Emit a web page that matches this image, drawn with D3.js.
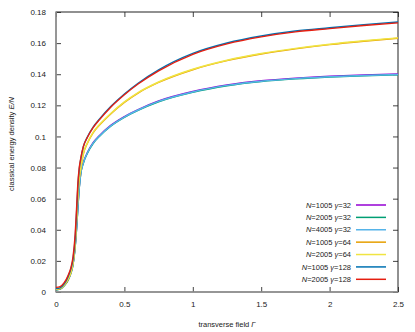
<!DOCTYPE html>
<html>
<head>
<meta charset="utf-8">
<script src="https://cdn.jsdelivr.net/npm/d3@7"></script>
<style>
  body { margin: 0; background: #fff; }
  text { font-family: "Liberation Sans", Arial, sans-serif; fill: #222; }
</style>
</head>
<body>
<div id="chart"></div>
<script>
// transverse field values shared by all series
const gammaField = [0, 0.03, 0.06, 0.09, 0.11, 0.125, 0.14, 0.15, 0.16, 0.17, 0.18, 0.2, 0.23, 0.27, 0.32, 0.4, 0.5, 0.6, 0.75, 1.0, 1.25, 1.5, 1.75, 2.0, 2.25, 2.5];

// energy density E/N per run
const n1005g32  = [0.0016, 0.0021, 0.0043, 0.0081, 0.0126, 0.0181, 0.0291, 0.0405, 0.0545, 0.0672, 0.0758, 0.0833, 0.0898, 0.0958, 0.1008, 0.1071, 0.1128, 0.1173, 0.1228, 0.1289, 0.1331, 0.1358, 0.1375, 0.1387, 0.1395, 0.1401];
const n2005g32  = [0.0012, 0.0018, 0.0040, 0.0078, 0.0123, 0.0178, 0.0288, 0.0400, 0.0540, 0.0668, 0.0753, 0.0828, 0.0893, 0.0953, 0.1003, 0.1066, 0.1123, 0.1168, 0.1223, 0.1284, 0.1326, 0.1353, 0.1370, 0.1382, 0.1390, 0.1396];
const n4005g32  = [0.0014, 0.0020, 0.0042, 0.0080, 0.0125, 0.0180, 0.0290, 0.0402, 0.0542, 0.0670, 0.0755, 0.0830, 0.0895, 0.0955, 0.1005, 0.1068, 0.1125, 0.1170, 0.1225, 0.1286, 0.1328, 0.1355, 0.1372, 0.1384, 0.1392, 0.1398];
const n1005g64  = [0.0016, 0.0021, 0.0043, 0.0083, 0.0128, 0.0188, 0.0305, 0.0455, 0.0615, 0.0725, 0.0785, 0.0887, 0.0957, 0.1022, 0.1075, 0.1145, 0.1219, 0.1279, 0.1347, 0.1429, 0.1487, 0.1530, 0.1563, 0.1590, 0.1612, 0.1631];
const n2005g64  = [0.0018, 0.0023, 0.0045, 0.0085, 0.0130, 0.0190, 0.0310, 0.0460, 0.0620, 0.0730, 0.0790, 0.0890, 0.0960, 0.1025, 0.1078, 0.1148, 0.1222, 0.1282, 0.1350, 0.1432, 0.1490, 0.1533, 0.1566, 0.1593, 0.1615, 0.1634];
const n1005g128 = [0.0022, 0.0027, 0.0052, 0.0102, 0.0152, 0.0215, 0.0345, 0.0505, 0.0680, 0.0790, 0.0850, 0.0935, 0.0998, 0.1059, 0.1114, 0.1192, 0.1273, 0.1342, 0.1428, 0.1534, 0.1601, 0.1646, 0.1678, 0.1699, 0.1719, 0.1736];
const n2005g128 = [0.0030, 0.0035, 0.0060, 0.0110, 0.0160, 0.0230, 0.0370, 0.0530, 0.0700, 0.0800, 0.0855, 0.0935, 0.0995, 0.1055, 0.1110, 0.1188, 0.1268, 0.1337, 0.1422, 0.1528, 0.1595, 0.1640, 0.1672, 0.1693, 0.1713, 0.1730];

const seriesN     = ["1005", "2005", "4005", "1005", "2005", "1005", "2005"];
const seriesGamma = ["32", "32", "32", "64", "64", "128", "128"];
const seriesColor = ["#9400d3", "#009e73", "#56b4e9", "#e69f00", "#f0e442", "#0072b2", "#e51e10"];
const seriesValues = [n1005g32, n2005g32, n4005g32, n1005g64, n2005g64, n1005g128, n2005g128];

const xTicks = [0, 0.5, 1, 1.5, 2, 2.5];
const yTicks = [0, 0.02, 0.04, 0.06, 0.08, 0.1, 0.12, 0.14, 0.16, 0.18];

const W = 415, H = 332;
const margin = { top: 12, right: 17, bottom: 40, left: 56 };
const width = W - margin.left - margin.right;
const height = H - margin.top - margin.bottom;

const svg = d3.select("#chart").append("svg")
    .attr("width", W)
    .attr("height", H);

const g = svg.append("g")
    .attr("transform", `translate(${margin.left},${margin.top})`);

const x = d3.scaleLinear().domain([0, 2.5]).range([0, width]);
const y = d3.scaleLinear().domain([0, 0.18]).range([height, 0]);

// ticks inward on all four sides (gnuplot style)
const tickLen = 5;
const tickColor = "#444";

g.append("g").attr("transform", `translate(0,${height})`)
    .call(d3.axisBottom(x).tickValues(xTicks).tickSizeInner(-tickLen).tickSizeOuter(0).tickPadding(9).tickFormat(d3.format("")))
    .call(a => a.select(".domain").remove())
    .call(a => a.selectAll("line").attr("stroke", tickColor))
    .call(a => a.selectAll("text").style("font-size", "8px"));

g.append("g")
    .call(d3.axisTop(x).tickValues(xTicks).tickSizeInner(-tickLen).tickSizeOuter(0).tickFormat(""))
    .call(a => a.select(".domain").remove())
    .call(a => a.selectAll("line").attr("stroke", tickColor));

g.append("g")
    .call(d3.axisLeft(y).tickValues(yTicks).tickSizeInner(-tickLen).tickSizeOuter(0).tickPadding(10).tickFormat(d3.format("")))
    .call(a => a.select(".domain").remove())
    .call(a => a.selectAll("line").attr("stroke", tickColor))
    .call(a => a.selectAll("text").style("font-size", "8px"));

g.append("g").attr("transform", `translate(${width},0)`)
    .call(d3.axisRight(y).tickValues(yTicks).tickSizeInner(-tickLen).tickSizeOuter(0).tickFormat(""))
    .call(a => a.select(".domain").remove())
    .call(a => a.selectAll("line").attr("stroke", tickColor));

// border
g.append("rect")
    .attr("width", width)
    .attr("height", height)
    .attr("fill", "none")
    .attr("stroke", "#222")
    .attr("stroke-width", 1);

// zero axes in gray over the left and bottom edges
g.append("line").attr("x1", x(0)).attr("x2", x(2.5)).attr("y1", y(0)).attr("y2", y(0))
    .attr("stroke", "#999").attr("stroke-width", 1.6);
g.append("line").attr("x1", x(0)).attr("x2", x(0)).attr("y1", y(0)).attr("y2", y(0.18))
    .attr("stroke", "#999").attr("stroke-width", 1.6);

const line = d3.line()
    .x((d, i) => x(gammaField[i]))
    .y(d => y(d))
    .curve(d3.curveMonotoneX);

seriesValues.forEach((vals, k) => {
  g.append("path")
      .datum(vals)
      .attr("fill", "none")
      .attr("stroke", seriesColor[k])
      .attr("stroke-width", 1.4)
      .attr("d", line);
});

// legend
const legend = g.append("g");
const rowY = d3.scaleLinear().domain([0, 6]).range([193, 267.3]);
seriesN.forEach((n, k) => {
  const yy = rowY(k);
  const t = legend.append("text")
      .attr("x", 351 - margin.left)
      .attr("y", yy)
      .attr("dy", "0.35em")
      .attr("text-anchor", "end")
      .style("font-size", "7.5px");
  t.append("tspan").style("font-style", "italic").text("N");
  t.append("tspan").text("=" + n + " ");
  t.append("tspan").style("font-style", "italic").text("γ");
  t.append("tspan").text("=" + seriesGamma[k]);
  legend.append("line")
      .attr("x1", 356 - margin.left).attr("x2", 386 - margin.left)
      .attr("y1", yy).attr("y2", yy)
      .attr("stroke", seriesColor[k])
      .attr("stroke-width", 1.5);
});

// axis labels
const xl = svg.append("text")
    .attr("x", margin.left + width / 2)
    .attr("y", 327)
    .attr("text-anchor", "middle")
    .style("font-size", "7.5px");
xl.append("tspan").text("transverse field ");
xl.append("tspan").style("font-style", "italic").text("Γ");

const yl = svg.append("text")
    .attr("transform", `translate(14,${margin.top + height / 2 - 8}) rotate(-90)`)
    .attr("text-anchor", "middle")
    .style("font-size", "7.5px");
yl.append("tspan").text("classical energy density ");
yl.append("tspan").style("font-style", "italic").text("E/N");
</script>
</body>
</html>
